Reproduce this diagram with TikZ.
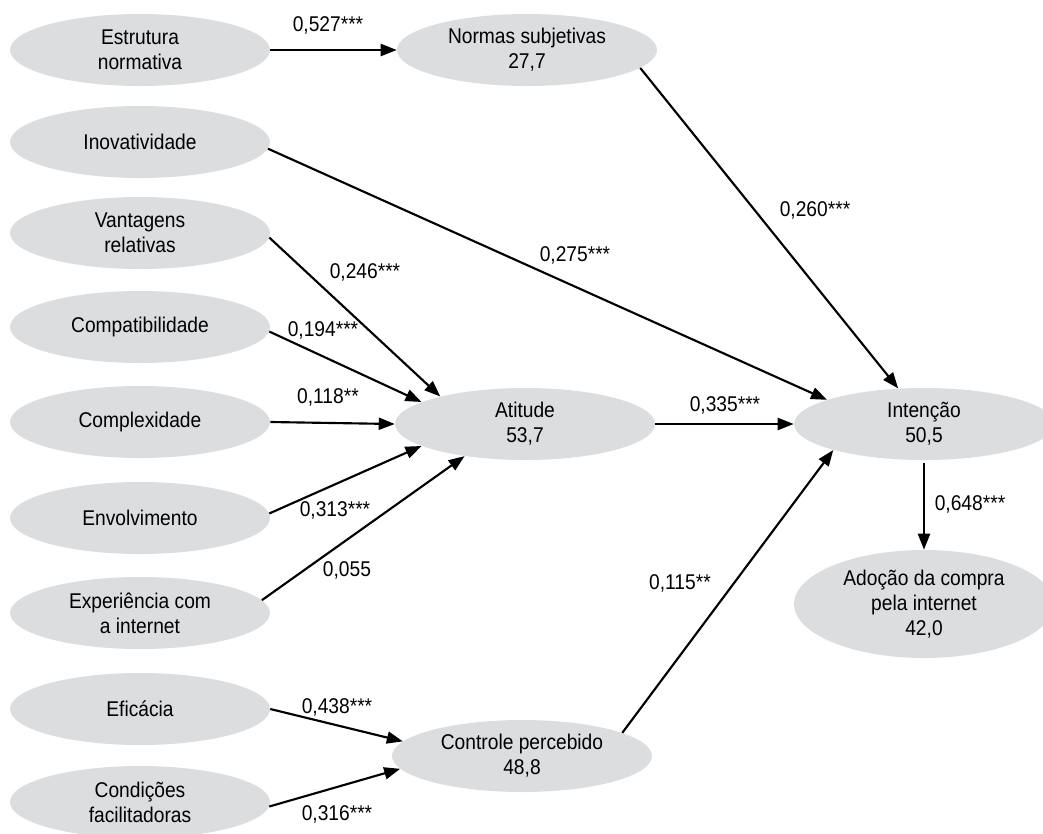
\documentclass[tikz,border=0pt]{standalone}
\usepackage{fontspec}
\setmainfont{Liberation Sans}[FakeStretch=0.9]
\usetikzlibrary{arrows.meta,shapes.geometric}
\definecolor{ellgray}{RGB}{220,221,223}
\tikzset{
  var/.style={ellipse,fill=ellgray,inner sep=0pt,minimum width=195pt,minimum height=54pt,align=center,
    font=\fontsize{16}{18.75}\selectfont},
  coef/.style={font=\fontsize{16}{18.75}\selectfont,inner sep=0pt},
  path/.style={line width=1.6pt,-{Triangle[length=12pt,width=9pt]}},
}
\begin{document}
\begin{tikzpicture}[x=0.75pt,y=-0.75pt]
\useasboundingbox (0,0) rectangle (1043,833);
\clip (0,0) rectangle (1043,833);
% left column
\node[var] (est) at (140,50) {Estrutura\\normativa};
\node[var] (ino) at (140,142) {Inovatividade};
\node[var] (van) at (140,233) {Vantagens\\relativas};
\node[var] (com) at (140,327) {Compatibilidade};
\node[var] (cpx) at (140,422) {Complexidade};
\node[var] (env) at (140,518) {Envolvimento};
\node[var] (exp) at (140,613) {Experiência com\\a internet};
\node[var] (efi) at (140,709) {Eficácia};
\node[var] (con) at (140,802) {Condições\\facilitadoras};
% middle / right
\node[var] (nor) at (527,50) {Normas subjetivas\\27,7};
\node[var] (ati) at (525,424) {Atitude\\53,7};
\node[var] (ctl) at (522,756) {Controle percebido\\48,8};
\node[var] (int) at (924,424) {Intenção\\50,5};
\node[var,minimum height=81pt] (ado) at (924,604) {Adoção da compra\\pela internet\\42,0};
% paths
\draw[path] (est.east) -- (nor.west);
\draw[path] (ino.-3) -- (int.166.5);
\draw[path] (nor.-9.8) -- (int.126);
\draw[path] (van.-2) -- (ati.162);
\draw[path] (com.-2.2) -- (ati.168);
\draw[path] (cpx.east) -- (ati.west);
\draw[path] (env.2.7) -- (ati.192);
\draw[path] (exp.6.7) -- (ati.208);
\draw[path] (ati.east) -- (int.west);
\draw[path] (ctl.13.8) -- (int.196);
\draw[path,shorten <=2pt] (int.south) -- (ado.north);
\draw[path] (efi.east) -- (ctl.173.5);
\draw[path] (con.-2.7) -- (ctl.186.5);
% coefficients
\node[coef] (c1) at (328,25) {0,527***};
\node[coef] (c2) at (575,255) {0,275***};
\node[coef] (c3) at (815,210) {0,260***};
\node[coef] (c4) at (365,272) {0,246***};
\node[coef] (c5) at (323,330) {0,194***};
\node[coef] (c6) at (328,397) {0,118**};
\node[coef] (c7) at (335,510) {0,313***};
\node[coef] (c8) at (347,570) {0,055};
\node[coef] (c9) at (725,405) {0,335***};
\node[coef] (c10) at (970,504) {0,648***};
\node[coef] (c11) at (680,583) {0,115**};
\node[coef] (c12) at (337,707) {0,438***};
\node[coef] (c13) at (337,814) {0,316***};
\end{tikzpicture}
\end{document}
